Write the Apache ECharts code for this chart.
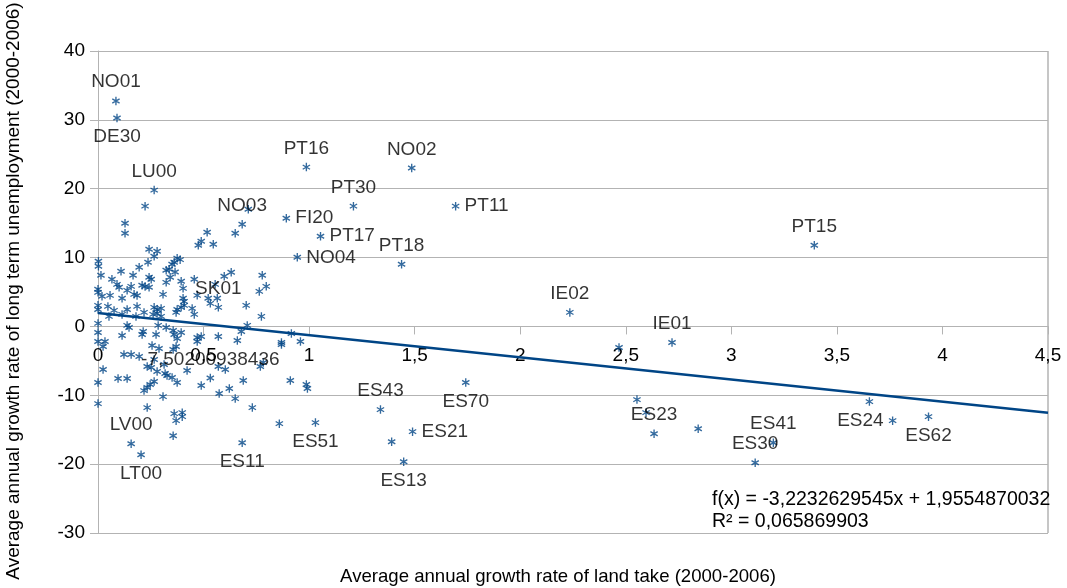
<!DOCTYPE html>
<html>
<head>
<meta charset="utf-8">
<script src="https://cdn.jsdelivr.net/npm/echarts@6/dist/echarts.min.js"></script>
<style>
  html, body { margin: 0; padding: 0; background: #fff; }
  #chart { width: 1067px; height: 588px; }
</style>
</head>
<body>
<div id="chart"></div>
<script>
// Regions without a label: land take growth (x) vs long-term unemployment growth (y)
const plainX = [
  0.223, 0.128, 0.128, 0.712, 0.650, 0.517, 0.489, 0.475, 0.546, 0.242,
  0.280, 0.266, 0.237, 0.002, 0.002, 0.375, 0.389, 0.361, 0.351, 0.337,
  0.323, 0.195, 0.109, 0.014, 0.166, 0.365, 0.342, 0.242, 0.252, 0.066,
  0.090, 0.100, 0.138, 0.157, 0.209, 0.223, 0.242, 0.323, 0.394, 0.403,
  0.000, 0.000, 0.019, 0.057, 0.171, 0.185, 0.308, 0.114, 0.403, 0.408,
  0.456, 0.631, 0.598, 0.555, 0.778, 0.797, 0.764, 0.470, 0.522, 0.565,
  0.532, 0.702, 0.774, 0.000, 0.000, 0.047, 0.076, 0.138, 0.185, 0.218,
  0.266, 0.280, 0.299, 0.280, 0.261, 0.375, 0.394, 0.408, 0.446, 0.456,
  0.370, 0.299, 0.052, 0.114, 0.180, 0.000, 0.138, 0.147, 0.214, 0.285,
  0.323, 0.356, 0.361, 0.394, 0.375, 0.470, 0.489, 0.570, 0.707, 0.679,
  0.660, 0.869, 0.000, 0.000, 0.033, 0.024, 0.114, 0.209, 0.275, 0.256,
  0.289, 0.356, 0.370, 0.123, 0.157, 0.195, 0.266, 0.313, 0.233, 0.252,
  0.280, 0.318, 0.327, 0.351, 0.375, 0.422, 0.570, 0.603, 0.769, 0.783,
  0.024, 0.000, 0.095, 0.138, 0.266, 0.247, 0.233, 0.218, 0.489, 0.622,
  0.688, 0.574, 0.650, 0.000, 0.308, 0.233, 0.731, 0.361, 0.399, 0.399,
  0.370, 0.859, 0.356, 0.470, 0.916, 0.869, 0.959, 0.911,
  2.468, 2.553, 2.596, 2.843, 3.654, 1.391, 0.992, 0.987
];
const plainY = [
  17.47, 14.99, 13.54, 17.03, 13.54, 13.68, 12.37, 11.79, 11.94, 11.21,
  10.92, 10.19, 9.32, 9.46, 8.73, 9.90, 9.70, 9.32, 9.02, 8.30,
  8.15, 8.59, 8.01, 7.42, 7.42, 7.90, 7.13, 7.13, 6.84, 6.84,
  6.11, 5.68, 5.24, 5.82, 5.97, 5.80, 5.68, 6.40, 6.55, 5.53,
  5.39, 4.95, 4.37, 4.51, 4.66, 4.50, 4.66, 4.08, 4.08, 3.64,
  6.84, 7.86, 7.28, 6.11, 7.42, 5.82, 5.09, 4.51, 4.08, 4.08,
  3.35, 3.06, 1.46, 3.06, 2.47, 2.91, 2.33, 2.47, 2.91, 2.04,
  2.77, 2.47, 2.62, 1.89, 1.75, 2.47, 2.77, 3.06, 2.62, 1.75,
  2.04, 1.46, 1.46, 1.75, 1.46, 0.44, 0.15, -0.15, -0.73, 0.15,
  -0.15, -0.58, -1.16, -0.87, -1.75, -1.60, -1.46, -1.46, 0.15, -0.73,
  -2.04, -2.33, -0.87, -2.18, -2.18, -2.91, -1.31, -1.16, -1.16, -2.77,
  -3.20, -3.35, -2.91, -4.08, -4.08, -4.37, -4.80, -5.53, -5.82, -5.97,
  -6.55, -6.84, -7.13, -7.42, -8.15, -6.40, -5.82, -6.26, -5.82, -5.24,
  -6.26, -8.15, -7.57, -7.57, -8.01, -8.44, -8.88, -9.32, -8.59, -9.02,
  -7.86, -9.75, -10.48, -11.21, -10.19, -11.79, -11.79, -12.66, -12.52, -13.10,
  -13.68, -14.12, -15.87, -2.18, -1.02, -2.62, -2.18, -7.86,
  -3.06, -10.63, -12.52, -14.85, -10.92, -16.74, -9.02, -8.44
];

// Named regions
const regionNames = [
  'NO01', 'DE30', 'LU00', 'NO03', 'SK01', 'ES11', 'LV00', 'LT00',
  'PT16', 'NO02', 'PT30', 'PT11', 'FI20', 'PT17', 'NO04', 'PT18',
  'PT15', 'IE02', 'IE01', 'ES23', 'ES41', 'ES30', 'ES24', 'ES62',
  'ES43', 'ES70', 'ES21', 'ES13', 'ES51'
];
const regionX = [
  0.085, 0.090, 0.266, 0.683, 0.570, 0.683, 0.157, 0.204,
  0.987, 1.486, 1.210, 1.694, 0.892, 1.054, 0.944, 1.438,
  3.393, 2.235, 2.719, 2.634, 3.199, 3.113, 3.764, 3.934,
  1.338, 1.742, 1.490, 1.448, 1.030
];
const regionY = [
  32.75, 30.28, 19.80, 14.85, 2.77, -16.88, -17.03, -18.63,
  23.14, 23.00, 17.47, 17.47, 15.72, 13.10, 10.04, 9.02,
  11.79, 2.04, -2.33, -15.58, -16.88, -19.80, -13.68, -13.10,
  -12.08, -8.15, -15.28, -19.65, -13.97
];

// One point carries its own value as a label
const valuePointX = [0.532];
const valuePointY = [-7.50200938436];

// Linear trend
const trendSlope = -3.2232629545;
const trendIntercept = 1.9554870032;
const trendR2 = '0,065869903';

const xTicks = [0, 0.5, 1, 1.5, 2, 2.5, 3, 3.5, 4, 4.5];
const yTicks = [-30, -20, -10, 0, 10, 20, 30, 40];

// Label side for each named region
const labelSide = {
  DE30: 'bottom', ES11: 'bottom', LT00: 'bottom', ES62: 'bottom', ES70: 'bottom',
  ES13: 'bottom', ES51: 'bottom',
  PT11: 'right', FI20: 'right', PT17: 'right', NO04: 'right', ES21: 'right',
  ES24: 'left'
};

const BLUE = '#004586';
const FONT = 'Liberation Sans, Arial, sans-serif';
const FS = 19;
const comma = v => String(v).replace('.', ',');

// Plot box
const GRID = { left: 98, right: 19, top: 51, bottom: 55 };
const plotH = 588 - GRID.top - GRID.bottom;
const yMin = yTicks[0], yMax = yTicks[yTicks.length - 1];
const xMin = xTicks[0], xMax = xTicks[xTicks.length - 1];
// The x axis sits on y = 0, lifted from the bottom of the plot box
const xAxisLift = plotH * (0 - yMin) / (yMax - yMin);

// Six-armed asterisk marker
const ASTERISK = 'path://M-0.16,-1L0.16,-1L0.16,1L-0.16,1Z' +
  'M-0.946,-0.361L-0.786,-0.639L0.946,0.361L0.786,0.639Z' +
  'M0.786,-0.639L0.946,-0.361L-0.786,0.639L-0.946,0.361Z';

const plainData = plainX.map((x, i) => [x, plainY[i]]);
const namedData = regionNames.map((n, i) => ({
  name: n,
  value: [regionX[i], regionY[i]],
  label: { position: labelSide[n] || 'top' }
}));
const valueData = valuePointX.map((x, i) => [x, valuePointY[i]]);
const trendData = [xMin, xMax].map(x => [x, trendSlope * x + trendIntercept]);

const markerStyle = {
  symbol: ASTERISK,
  symbolSize: [8, 8.5],
  itemStyle: { color: BLUE },
  emphasis: { disabled: true }
};

const chart = echarts.init(document.getElementById('chart'), null, { renderer: 'canvas' });
chart.setOption({
  backgroundColor: '#ffffff',
  animation: false,
  textStyle: { fontFamily: FONT },
  grid: Object.assign({ containLabel: false, outerBoundsMode: 'none' }, GRID),
  xAxis: {
    type: 'value',
    position: 'bottom',
    offset: -xAxisLift,
    min: xMin, max: xMax, interval: 0.5,
    axisLine: { show: true, onZero: false, lineStyle: { color: '#b3b3b3', width: 1 } },
    axisTick: { show: true, length: 8, lineStyle: { color: '#b3b3b3' } },
    axisLabel: { margin: 20, fontSize: FS, color: '#000', fontFamily: FONT, formatter: v => comma(v), showMaxLabel: true, showMinLabel: true },
    splitLine: { show: false }
  },
  yAxis: {
    type: 'value',
    min: yMin, max: yMax, interval: 10,
    axisLine: { show: true, onZero: false, lineStyle: { color: '#b3b3b3', width: 1 } },
    axisTick: { show: true, length: 8, lineStyle: { color: '#b3b3b3' } },
    axisLabel: { margin: 13, fontSize: FS, color: '#000', fontFamily: FONT },
    splitLine: { show: true, lineStyle: { color: '#b3b3b3', width: 1 } }
  },
  graphic: [
    { type: 'rect', shape: { x: 1048, y: GRID.top, width: 0, height: plotH }, style: { stroke: '#b3b3b3', lineWidth: 1, fill: null }, silent: true },
    { type: 'text', x: 558, y: 577, style: { text: 'Average annual growth rate of land take (2000-2006)', font: '18.6px ' + FONT, fill: '#000', align: 'center', verticalAlign: 'middle' } },
    { type: 'text', x: 14, y: 291, rotation: Math.PI / 2, style: { text: 'Average annual growth rate of long term unemployment (2000-2006)', font: FS + 'px ' + FONT, fill: '#000', align: 'center', verticalAlign: 'middle' } },
    { type: 'text', x: 712, y: 500, style: { text: 'f(x) = ' + comma(trendSlope) + 'x + ' + comma(trendIntercept), font: '19.5px ' + FONT, fill: '#000', align: 'left', verticalAlign: 'middle' } },
    { type: 'text', x: 712, y: 522, style: { text: 'R\u00b2 = ' + trendR2, font: '19.5px ' + FONT, fill: '#000', align: 'left', verticalAlign: 'middle' } }
  ],
  series: [
    Object.assign({ type: 'scatter', data: plainData, z: 3 }, markerStyle),
    Object.assign({
      type: 'scatter', data: namedData, z: 4,
      label: { show: true, formatter: '{b}', fontSize: FS, color: '#000', fontFamily: FONT, distance: 5 },
      labelLayout: { hideOverlap: false }
    }, markerStyle),
    Object.assign({
      type: 'scatter', data: valueData, z: 4,
      label: { show: true, position: 'top', distance: 5, fontSize: FS, color: '#000', fontFamily: FONT,
        formatter: p => comma(p.value[1]) }
    }, markerStyle),
    {
      type: 'line', data: trendData, z: 5,
      symbol: 'none', silent: true,
      lineStyle: { color: BLUE, width: 2.5 },
      emphasis: { disabled: true }
    }
  ]
});
</script>
</body>
</html>
